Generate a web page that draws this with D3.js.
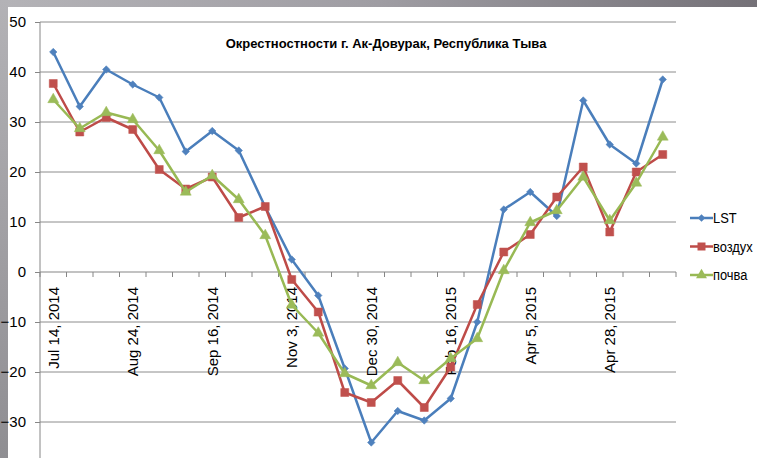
<!DOCTYPE html>
<html>
<head>
<meta charset="utf-8">
<script src="https://cdn.jsdelivr.net/npm/d3@7"></script>
<style>
  html, body { margin: 0; padding: 0; background: #fff; overflow: hidden; }
  text { font-family: "Liberation Sans", Arial, sans-serif; }
</style>
</head>
<body>
<svg id="chart" width="757" height="458"></svg>
<script>
// dates shown on the axis (every 3rd point is labelled, others left blank)
const dateLabels = [
    "Jul 14, 2014", "", "", "Aug 24, 2014", "", "", "Sep 16, 2014", "", "",
    "Nov 3, 2014", "", "", "Dec 30, 2014", "", "", "Feb 16, 2015", "", "",
    "Apr 5, 2015", "", "", "Apr 28, 2015", "", ""
];

const lstValues = [44, 33.1, 40.5, 37.5, 34.9, 24.1, 28.2, 24.3, 13, 2.5, -4.7, -19.3,
    -34.1, -27.8, -29.7, -25.3, -10, 12.5, 16, 11.2, 34.3, 25.5, 21.7, 38.5];
const airValues = [37.7, 28, 30.9, 28.5, 20.5, 16.6, 19, 10.9, 13.1, -1.5, -8, -24.1,
    -26.1, -21.7, -27.1, -19, -6.5, 4, 7.5, 15, 21, 8, 20, 23.5];
const soilValues = [34.5, 28.7, 31.9, 30.5, 24.3, 16, 19.3, 14.5, 7.3, -6.6, -12.2, -20.3,
    -22.7, -18.1, -21.7, -17.3, -13.3, 0.3, 9.9, 12.3, 19, 10.3, 17.8, 27];

const yTicks = [50, 40, 30, 20, 10, 0, -10, -20, -30];
const seriesNames = ["LST", "воздух", "почва"];
const title = "Окрестностности г. Ак-Довурак, Республика Тыва";

const series = [
    { name: seriesNames[0], values: lstValues, line: "#4a7ebb", fill: "#4f81bd", shape: "diamond" },
    { name: seriesNames[1], values: airValues, line: "#be4b48", fill: "#c0504d", shape: "square" },
    { name: seriesNames[2], values: soilValues, line: "#98b954", fill: "#9bbb59", shape: "triangle" }
];

const svg = d3.select("#chart");
const W = 757, H = 458;

// grey frame strips (slide background showing through)
const defs = svg.append("defs");
const topGrad = defs.append("linearGradient").attr("id", "topGrad");
topGrad.append("stop").attr("offset", "0%").attr("stop-color", "#b4b3b7");
topGrad.append("stop").attr("offset", "50%").attr("stop-color", "#9f9da3");
topGrad.append("stop").attr("offset", "100%").attr("stop-color", "#747177");
const leftGrad = defs.append("linearGradient").attr("id", "leftGrad")
    .attr("x1", 0).attr("y1", 0).attr("x2", 0).attr("y2", 1);
leftGrad.append("stop").attr("offset", "0%").attr("stop-color", "#b3b2b6");
leftGrad.append("stop").attr("offset", "100%").attr("stop-color", "#8f8e92");

svg.append("rect").attr("width", W).attr("height", H).attr("fill", "#fff");
svg.append("rect").attr("x", 0).attr("y", 0).attr("width", W).attr("height", 7).attr("fill", "url(#topGrad)");
svg.append("rect").attr("x", 0).attr("y", 0).attr("width", 8).attr("height", H).attr("fill", "url(#leftGrad)");

const plotLeft = 40, plotRight = 676;
const x = d3.scaleBand().domain(d3.range(dateLabels.length)).range([plotLeft, plotRight]);
// axis runs down to -40, below the visible picture
const y = d3.scaleLinear().domain([-40, 50]).range([472, 22]);
const cx = i => x(i) + x.bandwidth() / 2;

// horizontal gridlines + y axis
const yAxis = d3.axisLeft(y).tickValues(yTicks).tickSize(5).tickPadding(9)
    .tickFormat(d3.format("d"));
const yg = svg.append("g").attr("transform", `translate(${plotLeft},0)`).call(yAxis);
yg.select(".domain").remove();
yg.selectAll("line").attr("stroke", "#868686");
yg.selectAll("text").style("font-size", "15px").attr("fill", "#000");

svg.append("g").selectAll("line")
    .data(yTicks)
    .join("line")
    .attr("x1", plotLeft).attr("x2", plotRight)
    .attr("y1", d => y(d)).attr("y2", d => y(d))
    .attr("stroke", d => d === 0 ? "#868686" : "#8c8c8c")
    .attr("stroke-width", d => d === 0 ? 1.2 : 1);

svg.append("line")
    .attr("x1", plotLeft).attr("x2", plotLeft)
    .attr("y1", y(50)).attr("y2", H)
    .attr("stroke", "#868686");

// category axis at zero
const boundaries = d3.range(dateLabels.length + 1).map(i => plotLeft + i * x.step());
svg.append("g").selectAll("line")
    .data(boundaries)
    .join("line")
    .attr("x1", d => d).attr("x2", d => d)
    .attr("y1", y(0)).attr("y2", y(0) + 5)
    .attr("stroke", "#868686");

svg.append("g").selectAll("text")
    .data(dateLabels.map((t, i) => ({ t, i })).filter(d => d.t))
    .join("text")
    .attr("transform", d => `translate(${cx(d.i)},${y(0) + 15}) rotate(-90)`)
    .attr("text-anchor", "end")
    .attr("dy", "0.36em")
    .style("font-size", "15px")
    .attr("fill", "#000")
    .text(d => d.t);

// series
const line = d3.line().x((d, i) => cx(i)).y(d => y(d));
const symbolOf = {
    diamond: d3.symbol().type(d3.symbolDiamond2).size(36),
    square: d3.symbol().type(d3.symbolSquare).size(64),
    triangle: d3.symbol().type(d3.symbolTriangle).size(52)
};

series.forEach(s => {
    const g = svg.append("g");
    g.append("path")
        .attr("d", line(s.values))
        .attr("fill", "none")
        .attr("stroke", s.line)
        .attr("stroke-width", 2.5)
        .attr("stroke-linejoin", "round");
    g.selectAll("path.mark")
        .data(s.values)
        .join("path")
        .attr("class", "mark")
        .attr("transform", (d, i) => `translate(${cx(i)},${y(d)})`)
        .attr("d", symbolOf[s.shape])
        .attr("fill", s.fill)
        .attr("stroke", s.fill)
        .attr("stroke-width", 0.5);
});

// title
svg.append("text")
    .attr("x", 386).attr("y", 48)
    .attr("text-anchor", "middle")
    .style("font-size", "13px")
    .style("font-weight", "bold")
    .attr("fill", "#000")
    .text(title);

// legend (text squeezed a little so "воздух" fits before the right edge)
const legend = svg.append("g").selectAll("g")
    .data(series)
    .join("g")
    .attr("transform", (d, i) => `translate(690,${218 + i * 28.5})`);
legend.append("line")
    .attr("x1", 0).attr("x2", 23)
    .attr("stroke", d => d.line)
    .attr("stroke-width", 2.5);
legend.append("path")
    .attr("transform", "translate(11.5,0)")
    .attr("d", d => symbolOf[d.shape]())
    .attr("fill", d => d.fill);
legend.append("text")
    .attr("transform", "translate(23,0) scale(0.86,1)")
    .attr("dy", "0.36em")
    .style("font-size", "15px")
    .attr("fill", "#000")
    .text(d => d.name);
</script>
</body>
</html>
